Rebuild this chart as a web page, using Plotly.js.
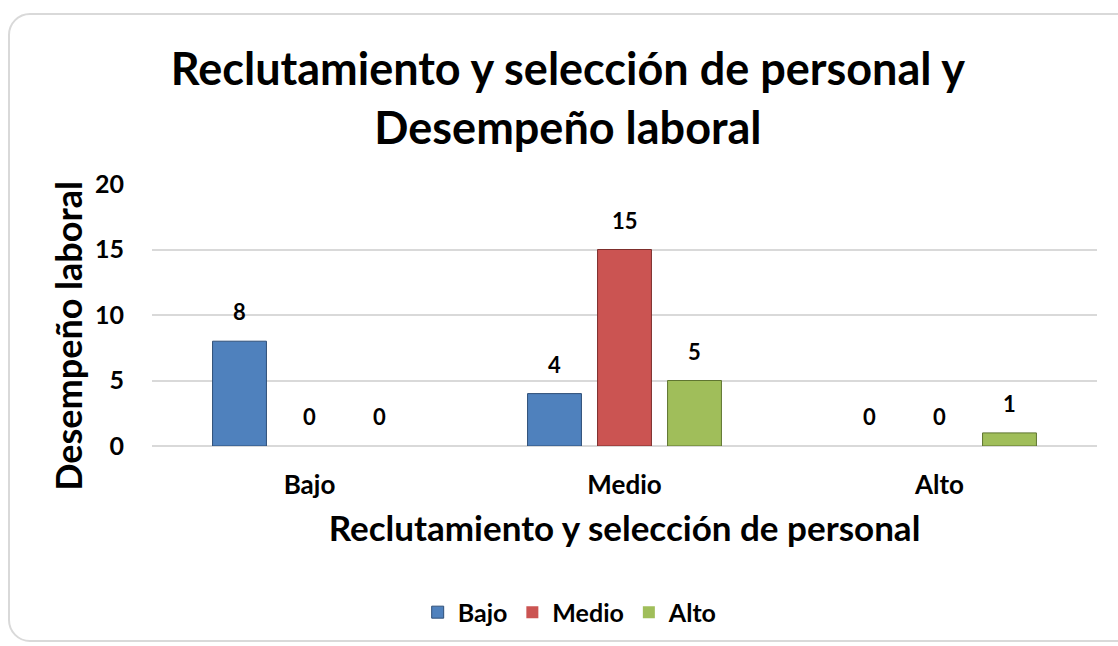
<!DOCTYPE html>
<html>
<head>
<meta charset="utf-8">
<script src="https://cdn.plot.ly/plotly-3.0.1.min.js"></script>
<style>
  html, body { margin: 0; padding: 0; background: #ffffff; }
  #wrap { position: relative; width: 1118px; height: 646px; overflow: hidden; }
  #frame { position: absolute; left: 8px; top: 13px; width: 1140px; height: 629px;
           border: 2px solid #d9d9d9; border-radius: 22px; box-sizing: border-box; }
  #chart { position: absolute; left: 0; top: 0; width: 1118px; height: 646px; }
</style>
</head>
<body>
<div id="wrap">
  <div id="frame"></div>
  <div id="chart"></div>
</div>
<script>
// ---- data ----
const categories = ['Bajo', 'Medio', 'Alto'];
const seriesNames = ['Bajo', 'Medio', 'Alto'];
const bajoValues = [8, 4, 0];
const medioValues = [0, 15, 0];
const altoValues = [0, 5, 1];
const yTicks = [0, 5, 10, 15, 20];

const titleText = 'Reclutamiento y selección de personal y<br>Desempeño laboral';
const xTitle = 'Reclutamiento y selección de personal';
const yTitle = 'Desempeño laboral';

// ---- styles ----
const FONT = 'Lato, "Open Sans", sans-serif';
const colors = ['#4F81BD', '#CB5452', '#A0BE5A'];
const edgeColors = ['#2f4f78', '#7d2e2c', '#5f7530'];
const BARGAP = 1/3;
const BARGROUPGAP = 0.23;

const allValues = [bajoValues, medioValues, altoValues];

const traces = allValues.map((vals, j) => ({
  type: 'bar',
  name: seriesNames[j],
  x: categories,
  y: vals,
  marker: { color: colors[j],
            line: { color: edgeColors[j], width: vals.map(v => v === 0 ? 0 : 1) } },
  hoverinfo: 'x+y+name'
}));

// data labels above bars (positions derived from group layout)
const annotations = [];
const slot = (1 - BARGAP) / allValues.length;
allValues.forEach((vals, j) => {
  vals.forEach((v, i) => {
    annotations.push({
      xref: 'x', yref: 'y',
      x: i + (j - (allValues.length - 1) / 2) * slot,
      y: v,
      text: String(v),
      showarrow: false,
      yanchor: 'bottom',
      yshift: 14,
      font: { family: FONT, size: 22, color: '#000000', weight: 'bold' }
    });
  });
});

// y-axis title (placed as a rotated annotation, as in the reference it sits a bit low)
annotations.push({
  xref: 'paper', yref: 'paper',
  x: -0.089, y: 0.42,
  xanchor: 'center', yanchor: 'middle',
  text: yTitle,
  textangle: -90,
  showarrow: false,
  font: { family: FONT, size: 36, color: '#000000', weight: 'bold' }
});

const layout = {
  width: 1118,
  height: 646,
  paper_bgcolor: 'rgba(0,0,0,0)',
  plot_bgcolor: 'rgba(0,0,0,0)',
  margin: { l: 152, r: 21, t: 184, b: 200 },
  barmode: 'group',
  bargap: BARGAP,
  bargroupgap: BARGROUPGAP,
  font: { family: FONT, color: '#000000' },
  title: {
    text: titleText,
    font: { family: FONT, size: 45, color: '#000000', weight: 'bold' },
    xref: 'container', x: 0.508, xanchor: 'center',
    yref: 'container', y: 0.868, yanchor: 'top'
  },
  xaxis: {
    type: 'category',
    showgrid: false,
    showline: false,
    zeroline: false,
    ticks: '',
    ticklabelstandoff: 21,
    tickfont: { family: FONT, size: 26, color: '#000000', weight: 'bold' },
    title: { text: xTitle, standoff: 17,
             font: { family: FONT, size: 35, color: '#000000', weight: 'bold' } }
  },
  yaxis: {
    range: [0, 20],
    tickvals: yTicks,
    showgrid: true,
    gridcolor: '#d9d9d9',
    gridwidth: 2,
    zeroline: true,
    zerolinecolor: '#d9d9d9',
    zerolinewidth: 2,
    showline: false,
    ticks: '',
    ticklabelstandoff: 27,
    tickfont: { family: FONT, size: 25, color: '#000000', weight: 'bold' }
  },
  showlegend: true,
  legend: {
    orientation: 'h',
    xref: 'container', x: 0.51, xanchor: 'center',
    yref: 'container', y: 0.052, yanchor: 'middle',
    font: { family: FONT, size: 25, color: '#000000', weight: 'bold' },
    itemwidth: 30,
    traceorder: 'normal'
  },
  annotations: annotations
};

Plotly.newPlot('chart', traces, layout, { displayModeBar: false, staticPlot: true });
</script>
</body>
</html>
